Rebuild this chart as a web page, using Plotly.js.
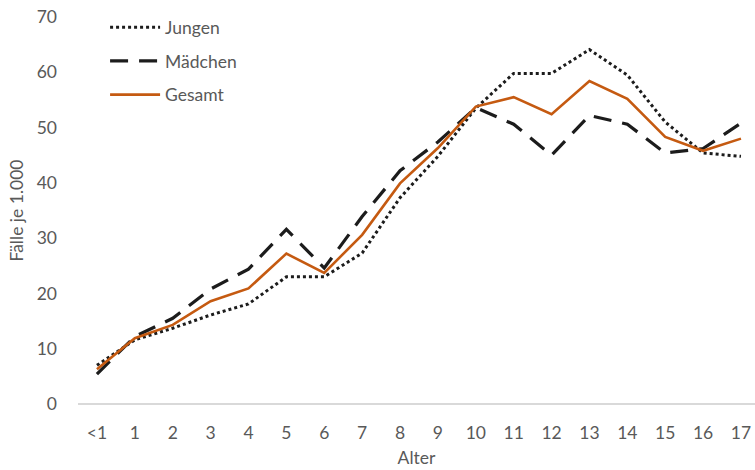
<!DOCTYPE html>
<html>
<head>
<meta charset="utf-8">
<script src="https://cdn.plot.ly/plotly-3.0.1.min.js"></script>
<style>html,body{margin:0;padding:0;background:#fff;}#chart{width:755px;height:470px;}</style>
</head>
<body>
<div id="chart"></div>
<script>
const categories = ['<1','1','2','3','4','5','6','7','8','9','10','11','12','13','14','15','16','17'];
const jungen  = [7.0, 11.6, 13.7, 16.1, 18.1, 23.0, 23.0, 27.3, 37.3, 44.8, 53.5, 59.8, 59.8, 64.1, 59.5, 51.0, 45.4, 44.8];
const maedchen = [5.4, 12.2, 15.5, 20.8, 24.4, 31.6, 24.6, 33.9, 42.2, 47.4, 53.6, 50.6, 45.0, 52.2, 50.6, 45.4, 46.2, 50.8];
const gesamt  = [6.3, 11.9, 14.3, 18.6, 20.9, 27.2, 23.7, 30.6, 39.9, 46.3, 53.8, 55.5, 52.4, 58.4, 55.2, 48.3, 45.8, 48.0];
const seriesNames = ['Jungen', 'Mädchen', 'Gesamt'];

const xi = categories.map((c, i) => i);
const font = 'Lato, "Open Sans", sans-serif';
const gray = '#595959';
const fs = 17.5;

const traces = [
  {x: xi, y: jungen, name: seriesNames[0], mode: 'lines', legendgroup: 'a',
   line: {color: '#1c1c1c', width: 3, dash: 'dot'}},
  {x: xi, y: maedchen, name: seriesNames[1], mode: 'lines', legendgroup: 'b',
   line: {color: '#1c1c1c', width: 3.2, dash: '18px,11px'}},
  {x: xi, y: gesamt, name: seriesNames[2], mode: 'lines', legendgroup: 'c',
   line: {color: '#C55A11', width: 2.6}}
];

const layout = {
  width: 755, height: 470,
  margin: {l: 78, r: 0, t: 17, b: 66},
  paper_bgcolor: '#fff', plot_bgcolor: '#fff',
  font: {family: font, color: gray, size: fs},
  showlegend: true,
  legend: {x: 0.04, y: 1.02, xanchor: 'left', yanchor: 'top',
    bgcolor: 'rgba(0,0,0,0)', font: {family: font, size: fs, color: gray},
    tracegroupgap: 8, traceorder: 'grouped', itemwidth: 50},
  xaxis: {
    range: [-0.5, 17.37],
    tickmode: 'array', tickvals: xi, ticktext: categories,
    showgrid: false, zeroline: false, showline: false,
    ticks: '', tickfont: {family: font, size: fs, color: gray},
    ticklabelstandoff: 16,
    title: {text: 'Alter', font: {family: font, size: fs, color: gray}, standoff: 10}
  },
  yaxis: {
    range: [0, 70], dtick: 10, tick0: 0,
    showgrid: false, zeroline: true, zerolinecolor: '#d9d9d9', zerolinewidth: 1.3,
    showline: false, ticks: '',
    tickfont: {family: font, size: fs, color: gray},
    ticklabelstandoff: 20,
    title: {text: 'Fälle je 1.000', font: {family: font, size: fs, color: gray}, standoff: 8}
  }
};

Plotly.newPlot('chart', traces, layout, {displayModeBar: false, staticPlot: true});
</script>
</body>
</html>
